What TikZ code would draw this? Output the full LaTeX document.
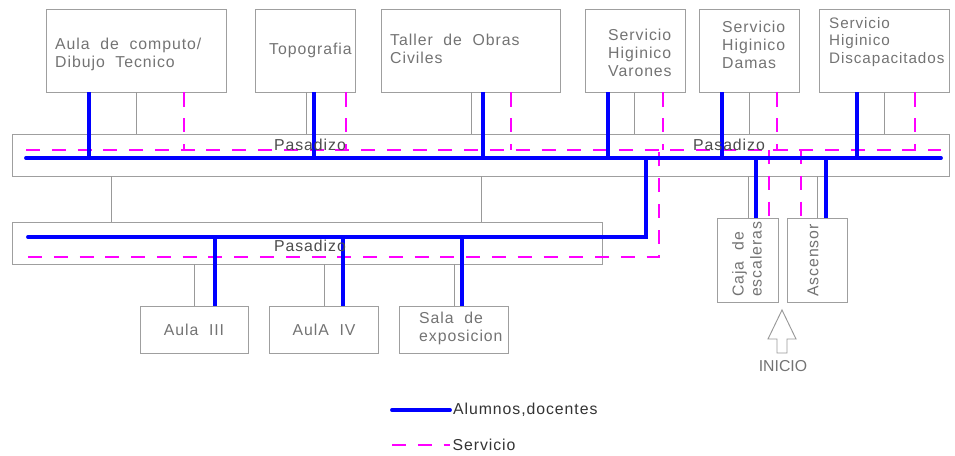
\documentclass[tikz,border=0pt]{standalone}
\usepackage{fontspec}
\setmainfont{Liberation Sans}[LetterSpace=6, WordSpace=2]
\newfontfamily\plainsans{Liberation Sans}
\usetikzlibrary{fit}
\definecolor{rosa}{RGB}{255,0,255}
\definecolor{azul}{RGB}{0,0,255}

\begin{document}
\begin{tikzpicture}[x=0.03cm, y=-0.03cm,
    recinto/.style={draw=gray!75, line width=0.8pt, inner sep=0pt},
    rotulo/.style={text=gray!90!black, font=\fontsize{13.5}{15.3}\selectfont, align=left, inner sep=0pt},
    pasa/.style={text=black!70, font=\fontsize{13.5}{15.3}\selectfont, inner sep=0pt},
    leyenda/.style={text=black!80, font=\fontsize{13.5}{15.3}\selectfont, inner sep=1pt},
    alumnos/.style={azul, line width=3.3pt},
    servicio/.style={rosa, line width=2.4pt, dash pattern=on 12pt off 10pt},
    enlace/.style={gray!80, line width=0.8pt}]
    \useasboundingbox (0,0) rectangle (955,456);

    % recintos
    \node[recinto, fit={(46,9) (226,92)}] (aula) {};
    \node[recinto, fit={(255,9) (355,92)}] (topo) {};
    \node[recinto, fit={(381,9) (560,92)}] (taller) {};
    \node[recinto, fit={(585,9) (685,92)}] (varones) {};
    \node[recinto, fit={(699,9) (799,92)}] (damas) {};
    \node[recinto, fit={(819,9) (949,92)}] (discap) {};
    \node[recinto, fit={(12,134) (949,176)}] (pasA) {};
    \node[recinto, fit={(12,222) (602,264)}] (pasB) {};
    \node[recinto, fit={(140,306) (248,353)}] (aula3) {};
    \node[recinto, fit={(269,306) (378,353)}] (aula4) {};
    \node[recinto, fit={(399,306) (508,353)}] (sala) {};
    \node[recinto, fit={(717,218) (778,302)}] (escalera) {};
    \node[recinto, fit={(787,218) (847,302)}] (ascensor) {};

    \coordinate (azulA) at (26,158);
    \coordinate (rosaA) at (26,150);
    \coordinate (azulB) at (28,237);
    \coordinate (rosaB) at (28,257);

    % enlaces grises
    \draw[enlace] (136,0 |- aula.south) -- (136,0 |- pasA.north)
        (306,0 |- topo.south) -- (306,0 |- pasA.north)
        (471,0 |- taller.south) -- (471,0 |- pasA.north)
        (634,0 |- varones.south) -- (634,0 |- pasA.north)
        (749,0 |- damas.south) -- (749,0 |- pasA.north)
        (884,0 |- discap.south) -- (884,0 |- pasA.north)
        (111,0 |- pasA.south) -- (111,0 |- pasB.north)
        (481,0 |- pasA.south) -- (481,0 |- pasB.north)
        (194,0 |- pasB.south) -- (194,0 |- aula3.north)
        (324,0 |- pasB.south) -- (324,0 |- aula4.north)
        (454,0 |- pasB.south) -- (454,0 |- sala.north)
        (748,0 |- pasA.south) -- (748,0 |- escalera.north)
        (817,0 |- pasA.south) -- (817,0 |- ascensor.north);

    % servicio
    \draw[servicio] (rosaA) -- (941,0 |- rosaA);
    \draw[servicio] (rosaB) -- (659,0 |- rosaB) -- (659,0 |- rosaA);
    \draw[servicio] (184,0 |- aula.south) -- (184,0 |- rosaA)
        (346,0 |- topo.south) -- (346,0 |- rosaA)
        (511,0 |- taller.south) -- (511,0 |- rosaA)
        (663,0 |- varones.south) -- (663,0 |- rosaA)
        (777,0 |- damas.south) -- (777,0 |- rosaA)
        (915,0 |- discap.south) -- (915,0 |- rosaA)
        (769,0 |- rosaA) -- (769,0 |- escalera.north)
        (801,0 |- rosaA) -- (801,0 |- ascensor.north);

    % alumnos, docentes
    \draw[alumnos, line cap=round] (azulA) -- (941,0 |- azulA);
    \draw[alumnos, line cap=round] (646,0 |- azulA) -- (646,0 |- azulB) -- (azulB);
    \draw[alumnos] (89,0 |- aula.south) -- (89,0 |- azulA)
        (314,0 |- topo.south) -- (314,0 |- azulA)
        (483,0 |- taller.south) -- (483,0 |- azulA)
        (608,0 |- varones.south) -- (608,0 |- azulA)
        (722,0 |- damas.south) -- (722,0 |- azulA)
        (857,0 |- discap.south) -- (857,0 |- azulA)
        (215,0 |- azulB) -- (215,0 |- aula3.north)
        (343,0 |- azulB) -- (343,0 |- aula4.north)
        (462,0 |- azulB) -- (462,0 |- sala.north)
        (756,0 |- azulA) -- (756,0 |- escalera.north)
        (826,0 |- azulA) -- (826,0 |- ascensor.north);

    % rotulos
    \node[rotulo, anchor=west] (tAula) at (55,54) {Aula de computo/\\Dibujo Tecnico};
    \node[rotulo, anchor=west] (tTopo) at (269,50) {Topografia};
    \node[rotulo, anchor=west] (tTaller) at (390,49) {Taller de Obras\\Civiles};
    \node[rotulo, anchor=west] (tVarones) at (608,53) {Servicio\\Higinico\\Varones};
    \node[rotulo, anchor=west] (tDamas) at (722,45) {Servicio\\Higinico\\Damas};
    \node[rotulo, anchor=west, font=\fontsize{13}{15.3}\selectfont] (tDiscap) at (829,42) {Servicio\\Higinico\\Discapacitados};
    \node[pasa] (lPasA1) at (310,145) {Pasadizo};
    \node[pasa] (lPasA2) at (729,145) {Pasadizo};
    \node[pasa] (lPasB) at (310,246) {Pasadizo};
    \node[rotulo] (tAula3) at (194,330) {Aula III};
    \node[rotulo] (tAula4) at (324,330) {AulA IV};
    \node[rotulo, anchor=west] (tSala) at (419,328) {Sala de\\exposicion};
    \node[rotulo, rotate=90, anchor=west] (tEscalera) at (747,297) {Caja de\\escaleras};
    \node[rotulo, rotate=90, anchor=west] (tAscensor) at (813,297) {Ascensor};

    % inicio
    \draw[gray!80, line width=0.8pt] (782,310) -- (796,339) -- (787,339) -- (787,353)
        -- (777,353) -- (777,339) -- (768,339) -- cycle;
    \node[rotulo, font=\plainsans\fontsize{13.5}{15.3}\selectfont] (inicio) at (783,366) {INICIO};

    % leyenda
    \coordinate (leyA) at (392,410);
    \coordinate (leyB) at (392,445);
    \draw[alumnos, line cap=round] (leyA) -- ++(58,0) node[leyenda, right] (tAlumnos) {Alumnos,docentes};
    \draw[servicio] (leyB) -- ++(58,0) node[leyenda, right] (tServicio) {Servicio};
\end{tikzpicture}
\end{document}
